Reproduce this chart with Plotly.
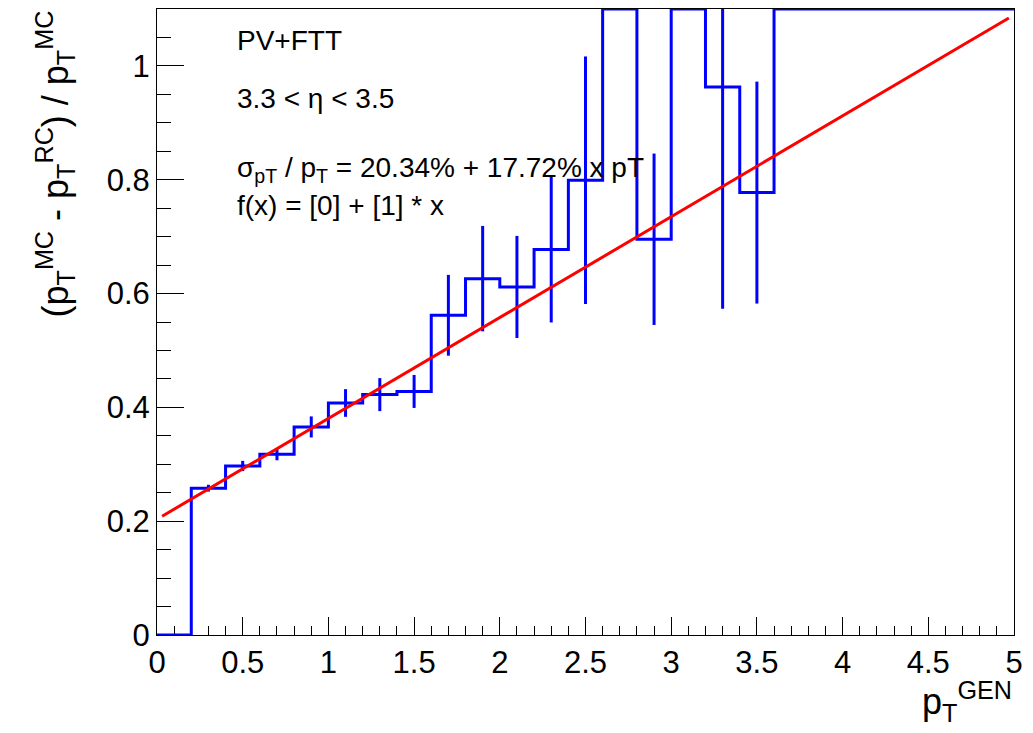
import numpy as np
import plotly.graph_objects as go

# pT^GEN binning (low edges, GeV/c) and bin width
bin_low = [0.0, 0.2, 0.4, 0.6, 0.8, 1.0, 1.2, 1.4, 1.6, 1.8, 2.0, 2.2, 2.4,
           2.6, 2.8, 3.0, 3.2, 3.4, 3.6, 3.8, 4.0, 4.2, 4.4, 4.6, 4.8]
bin_width = 0.2

# relative resolution (pT^MC - pT^RC) / pT^MC per bin and its uncertainty
ratio = [0.0, 0.258, 0.297, 0.3175, 0.3656, 0.4077, 0.4224, 0.428, 0.5618,
         0.6262, 0.6116, 0.6772, 0.7991, 1.2, 0.6954, 1.2, 0.9631, 0.7774,
         1.2, 1.2, 1.2, 1.2, 1.2, 1.2, 1.2]
ratio_err = [0.0, 0.006, 0.009, 0.0105, 0.0185, 0.0243, 0.029, 0.029, 0.071,
             0.0926, 0.0897, 0.128, 0.2175, None, 0.1506, None, 0.39, 0.195,
             None, None, None, None, None, None, None]

# linear fit f(x) = [0] + [1] * x
fit_p0 = 0.2034
fit_p1 = 0.1772
fit_range = [0.03, 4.97]

x_ticks = [0, 0.5, 1, 1.5, 2, 2.5, 3, 3.5, 4, 4.5, 5]
x_tick_text = ["0", "0.5", "1", "1.5", "2", "2.5", "3", "3.5", "4", "4.5", "5"]
y_ticks = [0, 0.2, 0.4, 0.6, 0.8, 1.0]
y_tick_text = ["0", "0.2", "0.4", "0.6", "0.8", "1"]
x_range = [0, 5]
y_range = [0, 1.1]

FONT = "Liberation Sans, Arial, Helvetica, sans-serif"
BLUE = "#0000ff"
RED = "#ff0000"

low = np.array(bin_low)
edges = np.append(low, low[-1] + bin_width)
centers = low + bin_width / 2
vals = np.array(ratio, dtype=float)

# histogram outline, bins above the frame are drawn along its top edge
shown = np.minimum(vals, y_range[1])
step_y = np.append(shown, shown[-1])

fig = go.Figure()
fig.add_trace(go.Scatter(
    x=edges, y=step_y, mode="lines", line_shape="hv",
    line=dict(color=BLUE, width=3), hoverinfo="skip", showlegend=False))

# vertical error bars at bin centres (only bins inside the frame)
has_err = [e is not None for e in ratio_err]
fig.add_trace(go.Scatter(
    x=centers[has_err], y=vals[has_err], mode="markers",
    marker=dict(size=1, color=BLUE),
    error_y=dict(type="data", array=[e for e in ratio_err if e is not None],
                 symmetric=True, width=0, thickness=3, color=BLUE),
    hoverinfo="skip", showlegend=False))

# fitted line
fx = np.linspace(fit_range[0], fit_range[1], 200)
fig.add_trace(go.Scatter(
    x=fx, y=fit_p0 + fit_p1 * fx, mode="lines",
    line=dict(color=RED, width=3), hoverinfo="skip", showlegend=False))

text_font = dict(family=FONT, size=28, color="black")
labels = [
    ("PV+FTT", 1.045),
    ("3.3 &lt; η &lt; 3.5", 0.942),
    ("σ<sub>pT</sub> / p<sub>T</sub> = %.2f%% + %.2f%% x pT" % (fit_p0 * 100, fit_p1 * 100), 0.818),
    ("f(x) = [0] + [1] * x", 0.755),
]
for txt, yy in labels:
    fig.add_annotation(x=0.455, y=yy, xref="x", yref="y", text=txt,
                       showarrow=False, xanchor="left", yanchor="middle",
                       font=text_font)

title_font = dict(family=FONT, size=36, color="black")
fig.add_annotation(
    text="(p<sub>T</sub><sup>MC</sup> - p<sub>T</sub><sup>RC</sup>) / p<sub>T</sub><sup>MC</sup>",
    xref="paper", yref="paper", x=-0.119, y=1.0, xanchor="center", yanchor="top",
    textangle=-90, showarrow=False, font=title_font)
fig.add_annotation(
    text="p<sub>T</sub><sup>GEN</sup>",
    xref="paper", yref="paper", x=1.0, y=-0.062, xanchor="right", yanchor="top",
    showarrow=False, font=title_font)

axis_common = dict(showline=True, mirror=True, linecolor="black", linewidth=1,
                   showgrid=False, zeroline=False, ticks="inside",
                   tickcolor="black", tickwidth=1, tickmode="array",
                   tickfont=dict(family=FONT, size=31, color="black"),
                   layer="below traces")
fig.update_xaxes(range=x_range, tickvals=x_ticks, ticktext=x_tick_text,
                 ticklen=18, ticklabelstandoff=0,
                 minor=dict(tickmode="linear", tick0=0, dtick=0.1, ticks="inside",
                            ticklen=9, tickcolor="black", tickwidth=1, showgrid=False),
                 **axis_common)
fig.update_yaxes(range=y_range, tickvals=y_ticks, ticktext=y_tick_text,
                 ticklen=27,
                 minor=dict(tickmode="linear", tick0=0, dtick=0.05, ticks="inside",
                            ticklen=14, tickcolor="black", tickwidth=1, showgrid=False),
                 **axis_common)

fig.update_layout(width=1033, height=733,
                  margin=dict(l=157, r=19, t=9, b=98),
                  paper_bgcolor="white", plot_bgcolor="white",
                  showlegend=False)

fig.write_html("out.html")
